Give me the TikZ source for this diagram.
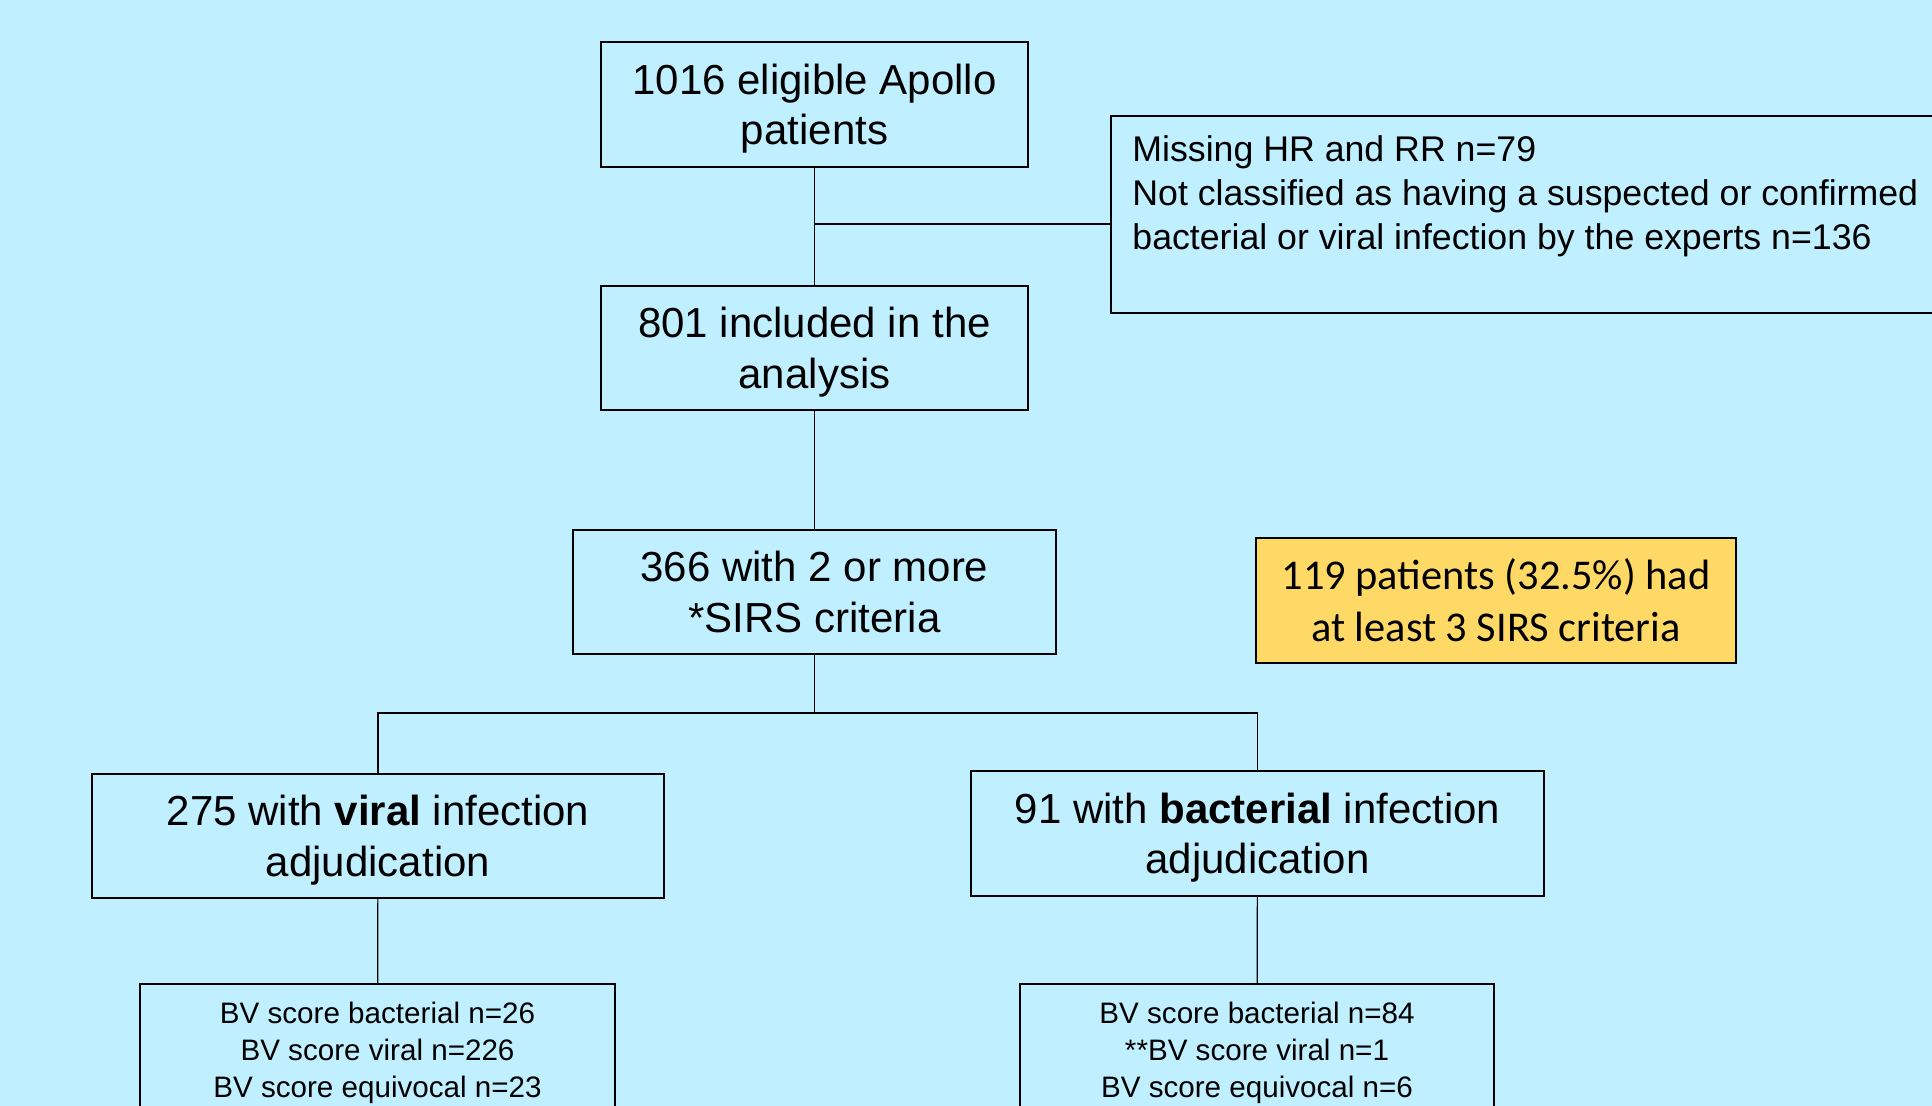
\documentclass[tikz,border=0pt]{standalone}
\usepackage{fontspec}
\setmainfont{Liberation Sans}
\newfontfamily\calibfont{Carlito}
\definecolor{skybg}{HTML}{C0F0FF}
\definecolor{goldbox}{HTML}{FFD966}
\newcommand{\boxtext}[2][2.5pt]{\raisebox{-#1}[\height][\depth]{\begin{tabular}{@{}c@{}}#2\end{tabular}}}
\tikzset{
  box/.style={draw, line width=1pt, fill=skybg, inner sep=0pt,
    font=\fontsize{21}{25.3}\selectfont},
  smallbox/.style={box, font=\fontsize{14.8}{18.5}\selectfont},
  notebox/.style={box, fill=goldbox, align=center, font=\calibfont\fontsize{21.2}{26}\selectfont},
  link/.style={line width=0.6pt}
}
\begin{document}
\begin{tikzpicture}[x=0.5pt,y=-0.5pt]
          \useasboundingbox (0,0) rectangle (1932,1106);
          \clip (0,0) rectangle (1932,1106);
          \fill [skybg] (0,0) rectangle (1932,1106);

          \node[box, minimum width=213.5pt, minimum height=62.5pt] (elig) at (814.5,104.5)
            {\boxtext{1016 eligible Apollo\\patients}};
          \node[box, minimum width=213.5pt, minimum height=62pt] (incl) at (814.5,348)
            {\boxtext{801 included in the\\analysis}};
          \node[box, minimum width=241.5pt, minimum height=62pt] (sirs) at (814.5,592)
            {\boxtext{366 with 2 or more\\{}*SIRS criteria}};
          \node[notebox, minimum width=240pt, minimum height=62.5pt] (three) at (1496,600.5)
            {119 patients (32.5\%) had\\at least 3 SIRS criteria};
          \node[box, minimum width=286pt, minimum height=62pt] (viral) at (378,836)
            {\boxtext{275 with \textbf{viral} infection\\adjudication}};
          \node[box, minimum width=286.5pt, minimum height=62.5pt] (bact) at (1257.5,833.5)
            {\boxtext{91 with \textbf{bacterial} infection\\adjudication}};
          \node[smallbox, minimum width=237.5pt, minimum height=67pt] (bvvir) at (377.5,1051)
            {\boxtext[1.25pt]{BV score bacterial n=26\\BV score viral n=226\\BV score equivocal n=23}};
          \node[smallbox, minimum width=237pt, minimum height=67pt] (bvbac) at (1257,1051)
            {\boxtext[1.25pt]{BV score bacterial n=84\\{}**BV score viral n=1\\BV score equivocal n=6}};

          \node[box, anchor=north west, minimum width=430pt, minimum height=98.5pt] (excl) at (1110,114.6) {};
          \node[anchor=north west, align=left, inner sep=0pt, font=\fontsize{17.85}{22}\selectfont] (excltxt)
            at (1132,135) {Missing HR and RR n=79\\
            Not classified as having a suspected or confirmed\\
            bacterial or viral infection by the experts n=136};

          \draw[link] (elig) -- (incl);
          \coordinate (split) at (814.5,224);
          \draw[link] (split) -- (split -| excl.west);
          \draw[link] (incl) -- (sirs);
          \coordinate (fork) at (814.5,713);
          \draw[link] (sirs) -- (fork);
          \draw[link] (viral.north) |- (fork) -| (bact.north);
          \draw[link] (viral) -- (bvvir);
          \draw[link] (bact) -- (bvbac);
        \end{tikzpicture}
\end{document}
